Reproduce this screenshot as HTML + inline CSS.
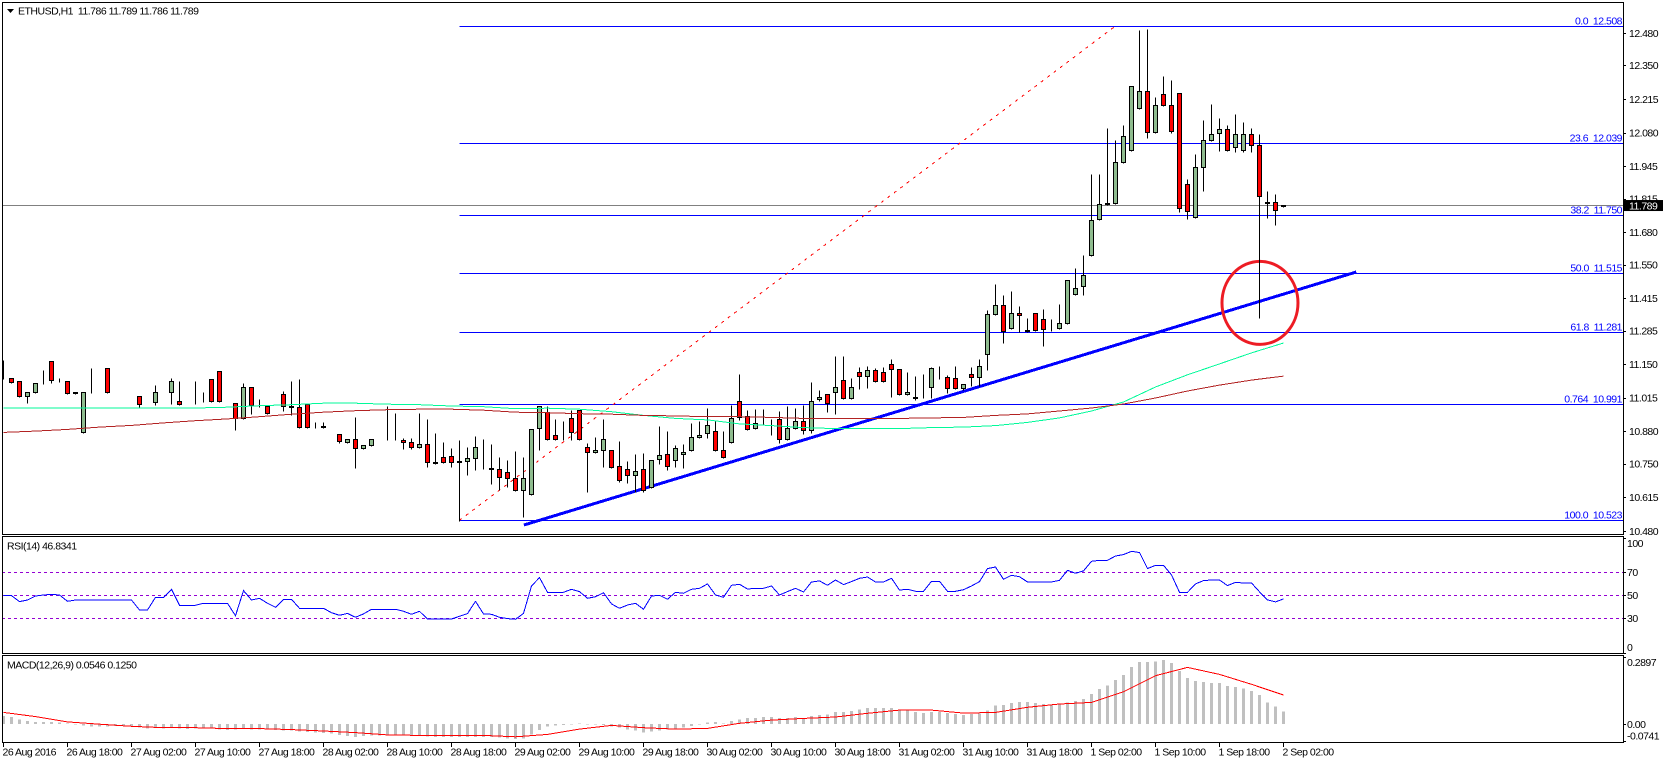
<!DOCTYPE html>
<html lang="en">
<head>
<meta charset="utf-8">
<title>ETHUSD H1 chart</title>
<style>
html,body{margin:0;padding:0;background:#fff;width:1663px;height:763px;overflow:hidden}
svg{display:block}
text{font-family:"Liberation Sans",sans-serif;font-size:10.5px;letter-spacing:-0.5px;white-space:pre}
</style>
</head>
<body>
<svg id="chart" xmlns="http://www.w3.org/2000/svg" width="1663" height="763" viewBox="0 0 1663 763"></svg>
<script>
var timeLabels=["26 Aug 2016","26 Aug 18:00","27 Aug 02:00","27 Aug 10:00","27 Aug 18:00","28 Aug 02:00","28 Aug 10:00","28 Aug 18:00","29 Aug 02:00","29 Aug 10:00","29 Aug 18:00","30 Aug 02:00","30 Aug 10:00","30 Aug 18:00","31 Aug 02:00","31 Aug 10:00","31 Aug 18:00","1 Sep 02:00","1 Sep 10:00","1 Sep 18:00","2 Sep 02:00"];
var priceTicks=["12.480","12.350","12.215","12.080","11.945","11.815","11.680","11.550","11.415","11.285","11.150","11.015","10.880","10.750","10.615","10.480"];
var rsiTicks=[100,70,50,30,0];
var rsiLevels=[70,50,30];
var macdTicks=["0.2897","0.00","-0.0741"];
var fibLevels=["0.0","23.6","38.2","50.0","61.8","0.764","100.0"];
var fibPrices=["12.508","12.039","11.750","11.515","11.281","10.991","10.523"];
var lastPrice="11.789";

var opens=[11.093,11.093,11.081,11.024,11.040,11.079,11.161,11.081,11.081,11.040,10.876,11.040,11.040,11.133,11.040,11.040,11.040,11.024,10.992,10.999,11.040,11.040,11.000,10.992,10.992,11.000,11.089,11.121,11.000,10.992,10.932,11.057,10.996,10.980,10.932,11.032,10.980,10.976,10.991,10.898,10.902,10.868,10.868,10.838,10.851,10.814,10.826,10.851,10.851,10.851,10.847,10.839,10.818,10.831,10.759,10.779,10.783,10.755,10.763,10.775,10.731,10.732,10.727,10.715,10.691,10.645,10.630,10.894,10.956,10.864,10.851,10.932,10.964,10.818,10.799,10.807,10.807,10.739,10.727,10.703,10.727,10.657,10.771,10.791,10.767,10.790,10.807,10.856,10.872,10.880,10.807,10.839,11.000,10.940,10.892,10.912,10.928,10.928,10.851,10.892,10.920,10.884,11.012,11.032,11.040,11.085,11.016,11.117,11.101,11.125,11.117,11.149,11.129,11.032,11.020,11.020,11.057,11.130,11.097,11.093,11.055,11.109,11.099,11.189,11.353,11.389,11.296,11.357,11.288,11.357,11.332,11.296,11.296,11.316,11.433,11.465,11.590,11.734,11.795,11.799,11.960,12.012,12.177,12.245,12.084,12.233,12.189,12.237,11.875,11.739,11.940,12.052,12.077,12.093,12.021,12.012,12.073,12.029,11.803,11.803,11.786];
var highs=[11.166,11.093,11.081,11.040,11.073,11.126,11.161,11.093,11.081,11.040,11.040,11.134,11.040,11.133,11.040,11.040,11.040,11.024,10.992,11.066,11.040,11.094,11.081,10.992,11.082,11.038,11.089,11.121,11.000,10.992,11.073,11.057,11.012,10.980,10.932,11.044,11.082,11.090,10.991,10.916,10.916,10.868,10.868,10.851,10.936,10.827,10.851,10.851,10.981,10.953,10.854,10.854,10.953,10.928,10.872,10.839,10.813,10.845,10.817,10.861,10.849,10.829,10.776,10.764,10.801,10.776,10.888,10.981,10.981,10.929,10.921,10.965,10.964,10.835,10.856,10.929,10.807,10.841,10.760,10.789,10.793,10.767,10.900,10.881,10.825,10.829,10.913,10.921,10.973,10.925,10.881,10.986,11.110,10.965,10.969,10.969,10.928,10.961,10.981,10.973,10.986,11.078,11.046,11.032,11.182,11.182,11.094,11.138,11.142,11.134,11.137,11.170,11.129,11.118,11.102,11.110,11.138,11.142,11.106,11.141,11.069,11.137,11.169,11.366,11.471,11.426,11.442,11.382,11.334,11.357,11.370,11.330,11.390,11.489,11.535,11.587,11.913,11.913,12.098,12.049,12.110,12.269,12.492,12.496,12.222,12.307,12.291,12.237,11.893,11.993,12.130,12.194,12.138,12.110,12.155,12.122,12.098,12.074,11.845,11.833,11.789];
var lows=[11.093,11.079,11.024,10.999,11.040,11.073,11.079,11.081,11.035,11.035,10.876,11.040,11.040,11.040,11.040,11.040,11.040,10.981,10.992,10.991,11.040,10.992,10.991,10.992,10.992,11.000,11.000,11.000,11.000,10.890,10.932,10.952,10.983,10.952,10.932,10.965,10.949,10.898,10.898,10.898,10.898,10.868,10.839,10.838,10.738,10.814,10.826,10.851,10.851,10.851,10.814,10.814,10.818,10.740,10.754,10.755,10.740,10.523,10.709,10.730,10.731,10.673,10.649,10.660,10.645,10.540,10.630,10.810,10.851,10.851,10.851,10.851,10.851,10.641,10.799,10.742,10.738,10.679,10.677,10.641,10.641,10.657,10.751,10.730,10.740,10.738,10.807,10.856,10.858,10.807,10.779,10.839,10.928,10.888,10.892,10.912,10.870,10.839,10.851,10.892,10.874,10.876,11.004,10.961,10.955,11.016,11.016,11.054,11.059,11.081,11.081,11.023,11.032,11.032,11.012,11.020,11.019,11.094,11.039,11.053,11.050,11.066,11.066,11.129,11.353,11.239,11.296,11.283,11.284,11.288,11.227,11.286,11.296,11.316,11.433,11.430,11.590,11.734,11.795,11.799,11.960,12.012,12.177,12.061,12.084,12.189,12.083,11.765,11.736,11.739,11.848,12.052,12.010,12.012,12.006,12.008,12.007,11.340,11.742,11.714,11.786];
var closes=[11.093,11.079,11.024,11.040,11.073,11.079,11.087,11.081,11.035,11.035,11.040,11.040,11.040,11.040,11.040,11.040,11.040,10.991,10.992,11.040,11.040,11.081,10.991,10.992,10.992,11.000,11.000,11.000,11.000,10.932,11.057,10.987,10.996,10.952,10.932,10.980,10.976,10.898,10.898,10.898,10.898,10.868,10.842,10.851,10.814,10.827,10.851,10.851,10.851,10.851,10.838,10.818,10.831,10.755,10.754,10.755,10.755,10.763,10.775,10.819,10.731,10.727,10.697,10.692,10.645,10.691,10.888,10.980,10.851,10.851,10.851,10.876,10.851,10.799,10.807,10.851,10.738,10.683,10.703,10.719,10.646,10.767,10.787,10.742,10.815,10.799,10.856,10.864,10.904,10.807,10.779,10.932,10.936,10.888,10.912,10.912,10.928,10.851,10.892,10.920,10.884,11.000,11.020,10.992,11.057,11.016,11.057,11.101,11.125,11.081,11.081,11.129,11.032,11.040,11.015,11.020,11.133,11.130,11.053,11.053,11.069,11.099,11.141,11.353,11.389,11.284,11.357,11.349,11.284,11.288,11.292,11.296,11.316,11.489,11.457,11.509,11.730,11.795,11.799,11.960,12.068,12.269,12.245,12.084,12.189,12.189,12.088,11.779,11.767,11.940,12.052,12.076,12.093,12.012,12.073,12.073,12.029,11.824,11.799,11.771,11.789];

// moving averages, read every 4th bar
var maStep=4;
var maFast=[10.973,10.973,10.973,10.973,10.973,10.973,10.974,10.977,10.983,10.987,10.993,10.993,10.989,10.987,10.982,10.979,10.971,10.973,10.969,10.959,10.944,10.932,10.926,10.910,10.903,10.895,10.891,10.891,10.891,10.895,10.897,10.903,10.916,10.934,10.962,10.998,11.058,11.107,11.151,11.195,11.235];
var maSlow=[10.876,10.881,10.888,10.897,10.904,10.914,10.923,10.930,10.939,10.949,10.957,10.963,10.967,10.969,10.969,10.965,10.957,10.955,10.951,10.949,10.944,10.942,10.939,10.939,10.936,10.932,10.932,10.932,10.932,10.934,10.936,10.944,10.950,10.962,10.974,10.990,11.014,11.042,11.066,11.086,11.102];

var rsiValues=[49.7,49.7,44.5,45.9,49.4,50.3,50.9,50.3,44.8,45.9,45.9,45.9,45.9,45.9,45.9,45.9,45.9,37.2,37.2,48.3,48.3,55.2,41.3,41.3,41.3,43,43,43,43,32.3,54.1,45.9,47.4,43,39.6,46.5,46.5,38.7,38.7,38.7,38.7,34.9,32.6,34.3,30.9,33.8,37.8,37.8,37.8,37.8,36.1,33.5,36.1,29.4,29.4,29.4,29.4,31.7,34.1,44.8,33.8,33.5,30.9,29.7,29.1,34.3,58.1,65.4,52.6,52.6,52.6,55.2,53.2,47.4,48.8,52.3,42.5,38.7,41.6,43,37.8,49.4,50,46.5,52.6,51.7,55.2,56.1,59.9,50.3,48.3,58.7,59.6,55.5,56.1,56.1,58.1,50.3,53.2,56.1,52.9,61.6,62.5,58.7,63.3,59.3,61.9,64.8,65.9,61.6,61.6,64.8,54.6,55.2,53.5,53.5,62.2,62.2,53.5,53.5,54.9,58.1,61.9,73.2,74.6,63.9,67.4,66.2,61.6,61.6,61.6,61.6,63,71.7,69.1,71.2,79.6,80.4,80.4,84.2,85.4,88.3,87.1,73.2,76.1,76.1,67.7,52.6,52.6,59.9,62.8,63.3,63.3,58.4,61.3,60.7,60.7,53,46,44.3,46.83];

var macdHist=[0.034,0.030,0.019,0.013,0.009,0.009,0.009,0.007,0.003,-0.003,-0.007,-0.011,-0.011,-0.011,-0.009,-0.009,-0.011,-0.016,-0.019,-0.016,-0.019,-0.017,-0.019,-0.022,-0.020,-0.020,-0.020,-0.023,-0.026,-0.024,-0.022,-0.023,-0.024,-0.024,-0.026,-0.027,-0.027,-0.032,-0.034,-0.036,-0.039,-0.042,-0.047,-0.052,-0.055,-0.052,-0.049,-0.050,-0.050,-0.050,-0.050,-0.050,-0.050,-0.053,-0.056,-0.056,-0.056,-0.056,-0.056,-0.056,-0.056,-0.055,-0.059,-0.062,-0.065,-0.062,-0.045,-0.026,-0.011,-0.007,-0.004,-0.001,0.003,0.000,-0.001,-0.004,-0.011,-0.016,-0.023,-0.029,-0.037,-0.033,-0.029,-0.024,-0.019,-0.016,-0.009,-0.001,0.007,0.009,0.003,0.013,0.020,0.026,0.026,0.030,0.030,0.026,0.026,0.030,0.026,0.034,0.039,0.042,0.052,0.052,0.056,0.062,0.069,0.069,0.069,0.069,0.063,0.060,0.052,0.047,0.052,0.052,0.047,0.043,0.039,0.043,0.046,0.059,0.079,0.082,0.091,0.095,0.095,0.091,0.086,0.082,0.089,0.093,0.099,0.108,0.129,0.151,0.165,0.190,0.211,0.246,0.267,0.267,0.270,0.276,0.263,0.228,0.198,0.185,0.181,0.177,0.177,0.164,0.159,0.154,0.142,0.125,0.093,0.075,0.0546];
var macdSignal=[0.050,0.032,0.009,-0.001,-0.010,-0.016,-0.016,-0.020,-0.020,-0.024,-0.030,-0.037,-0.047,-0.049,-0.049,-0.049,-0.055,-0.045,-0.022,-0.006,-0.016,-0.022,-0.019,0.003,0.017,0.024,0.030,0.046,0.060,0.060,0.047,0.050,0.072,0.086,0.093,0.139,0.208,0.244,0.214,0.171,0.125];

// drawing objects, anchored by bar index and price
var trendBars=[65.06,169.09];
var trendPrices=[10.504,11.520];
var swingBars=[57,139.2];
var swingPrices=[10.523,12.513];
var circleBar=157.06;
var circlePrice=11.396;

var NS='http://www.w3.org/2000/svg';
var root=document.getElementById('chart');
var RIGHT=1623;
function barX(i){return 3.5+8*i;}
function priceY(p){return 26+(12.508-p)*249;}
function rsiY(v){return 595.3+(50-v)*1.15;}
function macdY(v){return 724+(0-v)*232;}
function snap(y){return Math.round(y)+0.5;}
function mk(tag,attrs,parent){
  var el=document.createElementNS(NS,tag);
  for(var k in attrs){el.setAttribute(k,attrs[k]);}
  (parent||root).appendChild(el);
  return el;
}
function group(){return mk('g',{'shape-rendering':'crispEdges'});}
function hline(x1,x2,y,color,parent){return mk('line',{x1:x1,x2:x2,y1:y,y2:y,stroke:color,'stroke-width':1,'shape-rendering':'crispEdges'},parent);}
function vline(x,y1,y2,color,parent){return mk('line',{x1:x,x2:x,y1:y1,y2:y2,stroke:color,'stroke-width':1,'shape-rendering':'crispEdges'},parent);}
function label(x,cy,str,parent,color){
  var t=mk('text',{x:x,y:cy+3.8,fill:color||'#000'},parent);
  t.textContent=str;
  return t;
}
function linePts(values,step,yFn){
  return values.map(function(v,k){return barX(k*step)+','+yFn(v).toFixed(1);}).join(' ');
}
var el;

// fib levels
var fibGroup=group();


fibPrices.forEach(function(p,k){
  var y=snap(priceY(parseFloat(p)));
  var ln=hline(barX(swingBars[0]),RIGHT,y,'#0000ff',fibGroup);
  
  
  var t=mk('text',{x:RIGHT-1,y:y-2,fill:'#0000ff','text-anchor':'end'},fibGroup);
  t.textContent=fibLevels[k]+'  '+p;
  
  
});

// last price line
el=hline(2,RIGHT,snap(priceY(parseFloat(lastPrice))),'#808080');



// swing diagonal
el=mk('line',{x1:barX(swingBars[0]),y1:priceY(swingPrices[0]),x2:barX(swingBars[1]),y2:priceY(swingPrices[1]),stroke:'#ff0000','stroke-width':1,'stroke-dasharray':'3 5','shape-rendering':'crispEdges'});



// trend line
el=mk('line',{x1:barX(trendBars[0]),y1:priceY(trendPrices[0]),x2:barX(trendBars[1]),y2:priceY(trendPrices[1]),stroke:'#0000ff','stroke-width':3,'shape-rendering':'crispEdges'});



// highlight circle
el=mk('ellipse',{cx:barX(circleBar),cy:priceY(circlePrice),rx:38,ry:41.5,fill:'none',stroke:'#ed1c24','stroke-width':3});



// candles
var candleGroup=group();


opens.forEach(function(o,i){
  var c=closes[i],x=barX(i);
  var g=mk('g',{},candleGroup);
  
  
  var top=snap(priceY(Math.max(o,c))),bot=snap(priceY(Math.min(o,c)));
  var hy=snap(priceY(highs[i])),ly=snap(priceY(lows[i]));
  if(hy<ly){
    var w=vline(x,hy,ly+1,'#000',g);
    
    
  }
  var b=mk('rect',{x:x-2,y:top,width:4,height:Math.max(bot-top,0),fill:c>o?'#8fbc8f':(c<o?'#ff0000':'#000'),stroke:'#000','stroke-width':1},g);
  
  
});

// moving averages
el=mk('polyline',{points:linePts(maFast,maStep,priceY),fill:'none',stroke:'#00fa9a','stroke-width':1,'shape-rendering':'crispEdges'});


el=mk('polyline',{points:linePts(maSlow,maStep,priceY),fill:'none',stroke:'#b22222','stroke-width':1,'shape-rendering':'crispEdges'});



// RSI levels + line
rsiLevels.forEach(function(v){
  var y=snap(rsiY(v));
  var ln=mk('line',{x1:2,x2:RIGHT,y1:y,y2:y,stroke:'#9400d3','stroke-width':1,'stroke-dasharray':'3 3','shape-rendering':'crispEdges'});
  
  
});
el=mk('polyline',{points:linePts(rsiValues,1,rsiY),fill:'none',stroke:'#0000ff','stroke-width':1,'shape-rendering':'crispEdges'});



// MACD histogram + signal
var macdGroup=group();


macdHist.forEach(function(v,i){
  var y0=macdY(0),y1=macdY(v);
  var h=Math.max(Math.abs(y1-y0),0.6);
  var r=mk('rect',{x:barX(i)-1.5,y:Math.min(y0,y1),width:3,height:h,fill:'#c0c0c0'},macdGroup);
  
  
});
el=mk('polyline',{points:linePts(macdSignal,maStep,macdY),fill:'none',stroke:'#ff0000','stroke-width':1,'shape-rendering':'crispEdges'});



// frames
[[2.5,2.5,534.5],[2.5,536.5,653.5],[2.5,655.5,742.5]].forEach(function(f){
  var r=mk('rect',{x:f[0],y:f[1],width:RIGHT+0.5-f[0],height:f[2]-f[1],fill:'none',stroke:'#000','stroke-width':1,'shape-rendering':'crispEdges'});
  
  
});

// price axis
priceTicks.forEach(function(p){
  var y=priceY(parseFloat(p));
  var tk=hline(RIGHT,RIGHT+3,snap(y),'#000');
  
  
  var t=label(1629,y,p);
  
  
});
el=mk('rect',{x:1624,y:priceY(parseFloat(lastPrice))-5,width:39,height:11,fill:'#000'});


el=label(1629,priceY(parseFloat(lastPrice))+0.5,lastPrice,root,'#fff');



// RSI axis
rsiTicks.forEach(function(v){
  var y=rsiY(v);
  var tk=hline(RIGHT,RIGHT+3,snap(y),'#000');
  
  
  var t=label(1627,Math.min(Math.max(y,543),647),String(v));
  
  
});

// MACD axis
macdTicks.forEach(function(s){
  var y=macdY(parseFloat(s));
  var tk=hline(RIGHT,RIGHT+3,snap(Math.min(y,742)),'#000');
  
  
  var t=label(1627,Math.min(Math.max(y,662),735.7),s);
  
  
});

// time axis
timeLabels.forEach(function(s,k){
  var x=barX(k*8);
  var tk=vline(x,742,747,'#000');
  
  
  var t=label(x-1,751.7,s);
  
  
});

// titles
el=mk('polygon',{points:'7,9 14,9 10.5,13',fill:'#000'});


el=label(18,10.7,'ETHUSD,H1  11.786 11.789 11.786 11.789');


el=label(7,545.7,'RSI(14) 46.8341');


el=label(7,664.7,'MACD(12,26,9) 0.0546 0.1250');


</script>
</body>
</html>
